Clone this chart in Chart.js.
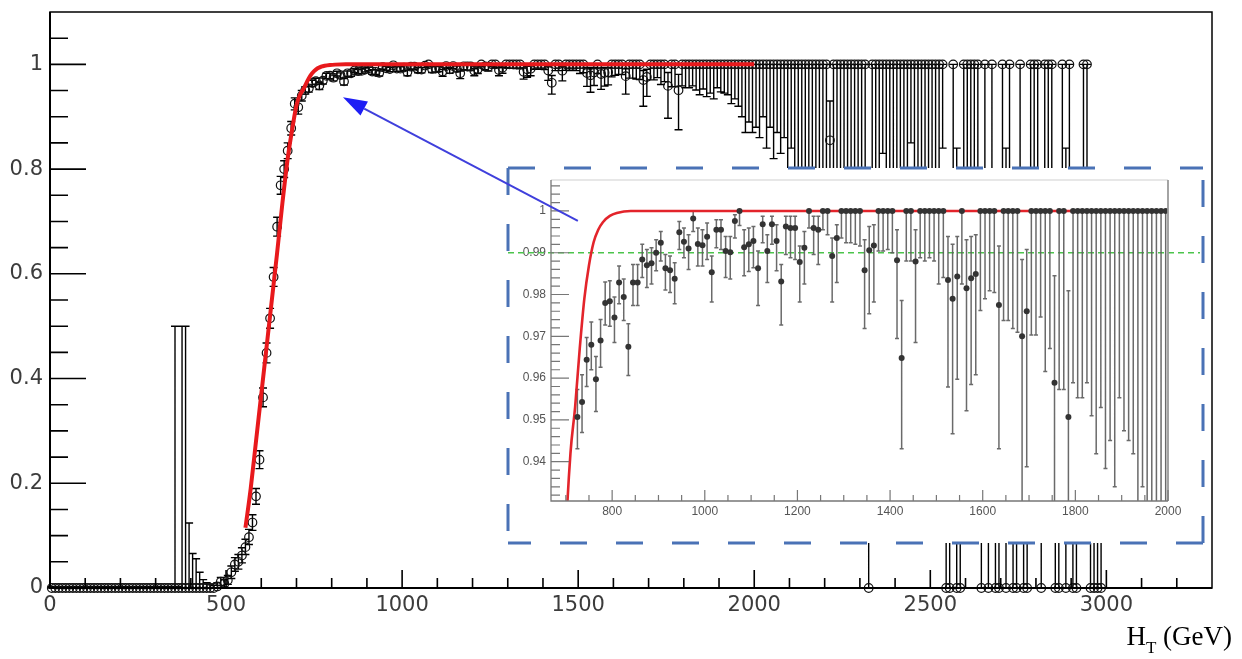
<!DOCTYPE html>
<html>
<head>
<meta charset="utf-8">
<script src="https://cdn.jsdelivr.net/npm/chart.js@4.4.0/dist/chart.umd.min.js"></script>
<style>
  html, body { margin: 0; padding: 0; background: #fff; }
  #wrap { position: relative; width: 1242px; height: 659px; }
  #wrap canvas { position: absolute; left: 0; top: 0; }
</style>
</head>
<body>
<div id="wrap">
  <canvas id="main" width="1242" height="659"></canvas>
  <canvas id="inset" width="1242" height="659"></canvas>
</div>
<script>
// ---- data ----
// turn-on region, 10 GeV bins (main plot only)
const lowHT = [5,15,25,35,45,55,65,75,85,95,
  105,115,125,135,145,155,165,175,185,195,
  205,215,225,235,245,255,265,275,285,295,
  305,315,325,335,345,355,365,375,385,395,
  405,415,425,435,445,455,465,475,485,495,
  505,515,525,535,545,555,565,575,585,595,
  605,615,625,635,645,655,665,675,685,695,
  705,715];
const lowEff = [0,0,0,0,0,0,0,0,0,0,
  0,0,0,0,0,0,0,0,0,0,
  0,0,0,0,0,0,0,0,0,0,
  0,0,0,0,0,0,0,0,0,0,
  0,0,0,0,0,0,0,0.003,0.012,0.008,
  0.015,0.03,0.045,0.05,0.062,0.078,0.097,0.125,0.175,0.245,
  0.364,0.449,0.515,0.594,0.69,0.769,0.80,0.835,0.878,0.925,
  0.918,0.94];
const lowLow = [0,0,0,0,0,0,0,0,0,0,
  0,0,0,0,0,0,0,0,0,0,
  0,0,0,0,0,0,0,0,0,0,
  0,0,0,0,0,0,0,0,0,0,
  0,0,0,0,0,0,0,0,0.005,0.002,
  0.007,0.018,0.032,0.036,0.048,0.064,0.083,0.11,0.16,0.228,
  0.346,0.43,0.496,0.576,0.672,0.752,0.784,0.82,0.865,0.913,
  0.905,0.93];
const lowHigh = [0.003,0.003,0.003,0.003,0.003,0.003,0.003,0.003,0.003,0.003,
  0.003,0.003,0.003,0.003,0.003,0.003,0.003,0.003,0.003,0.003,
  0.003,0.003,0.003,0.003,0.003,0.003,0.003,0.003,0.003,0.003,
  0.003,0.003,0.003,0.003,0.003,0.5,0.003,0.5,0.5,0.124,
  0.066,0.056,0.03,0.016,0.01,0.006,0.005,0.01,0.02,0.016,
  0.024,0.042,0.058,0.064,0.077,0.093,0.112,0.14,0.19,0.262,
  0.382,0.468,0.534,0.612,0.708,0.786,0.816,0.85,0.891,0.936,
  0.93,0.95];

// plateau region 720-2000 (shown in both plots)
const insetHT = [725,735,745,755,765,775,785,795,805,815,
  825,835,845,855,865,875,885,895,905,915,
  925,935,945,955,965,975,985,995,1005,1015,
  1025,1035,1045,1055,1065,1075,1085,1095,1105,1115,
  1125,1135,1145,1155,1165,1175,1185,1195,1205,1215,
  1225,1235,1245,1255,1265,1275,1285,1295,1305,1315,
  1325,1335,1345,1355,1365,1375,1385,1395,1405,1415,
  1425,1435,1445,1455,1465,1475,1485,1495,1505,1515,
  1525,1535,1545,1555,1565,1575,1585,1595,1605,1615,
  1625,1635,1645,1655,1665,1675,1685,1695,1705,1715,
  1725,1735,1745,1755,1765,1775,1785,1795,1805,1815,
  1825,1835,1845,1855,1865,1875,1885,1895,1905,1915,
  1925,1935,1945,1955,1965,1975,1985,1995];
const insetEff = [0.9507,0.9543,0.9644,0.9680,0.9597,0.9690,0.9780,0.9784,0.9745,0.9829,
  0.9794,0.9675,0.9829,0.9829,0.9884,0.9870,0.9875,0.9900,0.9924,0.9863,
  0.9858,0.9838,0.9949,0.9926,0.9910,0.9982,0.9921,0.9918,0.9938,0.9853,
  0.9955,0.9955,0.9904,0.9901,0.9976,1,0.9913,0.9920,0.9928,0.9863,
  0.9968,0.9904,0.9968,0.9928,0.9831,0.9963,0.9959,0.9959,0.9878,0.9912,
  1,0.9959,0.9955,1,1,0.9892,0.9935,1,1,1,
  1,1,0.9858,0.9906,0.9917,1,1,1,1,0.9882,
  0.9648,1,1,0.9879,1,1,1,1,1,1,
  0.9835,0.9790,0.9843,1,0.9815,0.9839,0.9849,1,1,1,
  1,0.9775,1,1,1,1,0.9700,0.9760,1,1,
  1,1,1,0.9589,1,1,0.9507,1,1,1,
  1,1,1,1,1,1,1,1,1,1,
  1,1,1,1,1,1,1,1];
const insetLow = [0.9431,0.9470,0.9580,0.9620,0.9520,0.9626,0.9727,0.9724,0.9685,0.9778,
  0.9738,0.9606,0.9774,0.9774,0.9841,0.9817,0.9825,0.9857,0.9880,0.9811,
  0.9805,0.9778,0.9908,0.9888,0.9860,0.9951,0.9868,0.9868,0.9884,0.9782,
  0.9912,0.9908,0.9841,0.9837,0.9935,0.9965,0.9845,0.9855,0.9864,0.9774,
  0.9924,0.9829,0.9920,0.9857,0.9727,0.9896,0.9888,0.9884,0.9782,0.9825,
  0.9959,0.9896,0.9872,0.9955,0.9943,0.9782,0.9829,0.9935,0.9924,0.9924,
  0.9920,0.9916,0.9719,0.9754,0.9782,0.9904,0.9904,0.9908,0.9900,0.9695,
  0.9431,0.9880,0.9880,0.9685,0.9888,0.9880,0.9888,0.9880,0.9825,0.9841,
  0.9579,0.9467,0.9597,0.9825,0.9522,0.9585,0.9608,0.9762,0.9790,0.9809,
  0.9805,0.9431,0.9738,0.9738,0.9719,0.9710,0.9200,0.9388,0.9703,0.9703,
  0.9746,0.9616,0.9671,0.8970,0.9573,0.9573,0.8750,0.9589,0.9553,0.9553,
  0.9589,0.9510,0.9419,0.9530,0.9384,0.9451,0.9340,0.9553,0.9474,0.9451,
  0.9419,0.9250,0.9340,0.9200,0.9000,0.8700,0.8900,0.8700];
const insetHigh = [0.9573,0.9608,0.9697,0.9734,0.9652,0.9740,0.9830,0.9833,0.9794,0.9868,
  0.9837,0.9730,0.9872,0.9872,0.9920,0.9908,0.9912,0.9931,0.9951,0.9896,
  0.9892,0.9876,0.9975,0.9959,0.9943,1,0.9959,0.9955,0.9971,0.9892,
  0.9979,0.9979,0.9939,0.9939,0.9991,1,0.9955,0.9959,0.9963,0.9904,
  0.9987,0.9943,0.9987,0.9967,0.9872,0.9987,0.9987,0.9987,0.9916,0.9951,
  1,0.9987,0.9987,1,1,0.9935,0.9967,1,1,1,
  1,1,0.9931,0.9963,0.9967,1,1,1,1,0.9955,
  0.9786,1,1,0.9955,1,1,1,1,1,1,
  0.9939,0.9920,0.9939,1,0.9931,0.9939,0.9943,1,1,1,
  1,0.9916,1,1,1,1,0.9884,0.9908,1,1,
  1,1,1,0.9845,1,1,0.9809,1,1,1,
  1,1,1,1,1,1,1,1,1,1,
  1,1,1,1,1,1,1,1];

// sparse tail above 2000 GeV (main plot only)
const highHT = [2005,2015,2025,2035,2045,2055,2065,2075,2085,2095,
  2105,2115,2125,2135,2145,2155,2165,2175,2185,2195,
  2205,2215,2225,2235,2245,2255,2265,2275,2285,2295,
  2305,2315,2325,2335,2345,2355,2365,2375,2385,2395,
  2405,2415,2425,2435,2445,2455,2465,2475,2485,2495,
  2505,2515,2525,2535,2545,2555,2565,2575,2585,2595,
  2605,2615,2625,2635,2645,2655,2665,2675,2685,2695,
  2705,2715,2725,2735,2745,2755,2765,2775,2785,2795,
  2805,2815,2825,2835,2845,2855,2865,2875,2885,2895,
  2905,2915,2935,2945,2955,2965,2975,2985];
const highEff = [1,1,1,1,1,1,1,1,1,1,
  1,1,1,1,1,1,1,1,1,1,
  1,0.855,1,1,1,1,1,1,1,1,
  1,1,0,1,1,1,1,1,1,1,
  1,1,1,1,1,1,1,1,1,1,
  1,1,1,1,0,0,1,0,0,1,
  1,1,1,1,0,1,0,1,0,0,
  1,0,1,0,0,1,0,0,1,1,
  1,0,1,1,1,0,0,1,0,1,
  0,0,1,1,0,0,0,0];
const highLow = [0.88,0.86,0.90,0.84,0.88,0.82,0.87,0.83,0.86,0.80,
  0.84,0.78,0.6,0.55,0.7,0.5,0.45,0.62,0.4,0.35,
  0.4,0.6,0.3,0.25,0.16,0.4,0.3,0.16,0.2,0.35,
  0.16,0.25,0,0.3,0.16,0.2,0.83,0.4,0.25,0.16,
  0.3,0.2,0.16,0.25,0.85,0.3,0.16,0.2,0.16,0.16,
  0.25,0.16,0.2,0.84,0,0,0.16,0,0,0.16,
  0.16,0.16,0.16,0.16,0,0.16,0,0.16,0,0,
  0.16,0,0.16,0,0,0.16,0,0,0.16,0.16,
  0.16,0,0.16,0.16,0.16,0,0,0.16,0,0.16,
  0,0,0.16,0.16,0,0,0,0];
const highHigh = [1,1,1,1,1,1,1,1,1,1,
  1,1,1,1,1,1,1,1,1,1,
  1,0.93,1,1,1,1,1,1,1,1,
  1,1,0.7,1,1,1,1,1,1,1,
  1,1,1,1,1,1,1,1,1,1,
  1,1,1,1,0.7,0.7,1,0.84,0.7,1,
  1,1,1,1,0.7,1,0.7,1,0.7,0.7,
  1,0.84,1,0.7,0.7,1,0.7,0.7,1,1,
  1,0.7,1,1,1,0.7,0.7,1,0.84,1,
  0.7,0.7,1,1,0.7,0.7,0.7,0.7];

// fitted turn-on curve
const fitHT  = [555,570,585,600,615,630,645,660,675,690,700,710,720,730,740,750,760,770,780,795,810,840,2000];
const fitEff = [0.115,0.19,0.28,0.37,0.46,0.55,0.64,0.735,0.82,0.885,0.922,0.942,0.953,0.967,0.979,0.987,0.9925,0.9955,0.9973,0.9988,0.9995,1,1];

// tick labels
const mainXLabels = [0,500,1000,1500,2000,2500,3000];
const mainYLabels = [0,0.2,0.4,0.6,0.8,1];
const insetXLabels = [800,1000,1200,1400,1600,1800,2000];
const insetYLabels = [0.94,0.95,0.96,0.97,0.98,0.99,1];
const guideLevel = 0.99;
const arrowHead = { x: 832, y: 0.937 };   // main-plot coordinates
const arrowTail = { x: 726, y: 0.9976 };  // inset coordinates

Chart.defaults.font.family = 'DejaVu Sans';

const toXY = (xs, ys) => xs.map((x, i) => ({ x: x, y: ys[i] }));
const mainHT = lowHT.concat(insetHT, highHT);
const mainEff = lowEff.concat(insetEff, highEff);
const mainLow = lowLow.concat(insetLow, highLow);
const mainHigh = lowHigh.concat(insetHigh, highHigh);

function drawErrorBars(chart) {
  const ctx = chart.ctx, xs = chart.scales.x, ys = chart.scales.y, a = chart.chartArea;
  chart.data.datasets.forEach(ds => {
    if (!ds.errLow) return;
    ctx.save();
    if (ds.clipBars) {
      ctx.beginPath();
      ctx.rect(a.left, a.top, a.right - a.left, a.bottom - a.top);
      ctx.clip();
    }
    ctx.strokeStyle = ds.barColor;
    ctx.lineWidth = ds.barWidth;
    ctx.beginPath();
    const c = ds.capHalf;
    ds.data.forEach((p, i) => {
      const x = xs.getPixelForValue(p.x);
      const y1 = ys.getPixelForValue(ds.errLow[i]);
      const y2 = ys.getPixelForValue(ds.errHigh[i]);
      ctx.moveTo(x, y1); ctx.lineTo(x, y2);
      if (c) {
        ctx.moveTo(x - c, y1); ctx.lineTo(x + c, y1);
        ctx.moveTo(x - c, y2); ctx.lineTo(x + c, y2);
      }
    });
    ctx.stroke();
    ctx.restore();
  });
}

function tickLoop(from, to, step) {
  const out = [];
  for (let v = from; v <= to + step / 1000; v += step) out.push(Math.round(v * 10000) / 10000);
  return out;
}

function drawInsideTicks(chart, xMinor, xMajor, xMinLen, xMajLen, yMinor, yMajor, yMinLen, yMajLen) {
  const ctx = chart.ctx, xs = chart.scales.x, ys = chart.scales.y, a = chart.chartArea;
  ctx.beginPath();
  xMinor.forEach(v => { const x = xs.getPixelForValue(v); ctx.moveTo(x, a.bottom); ctx.lineTo(x, a.bottom - xMinLen); });
  xMajor.forEach(v => { const x = xs.getPixelForValue(v); ctx.moveTo(x, a.bottom); ctx.lineTo(x, a.bottom - xMajLen); });
  yMinor.forEach(v => { const y = ys.getPixelForValue(v); ctx.moveTo(a.left, y); ctx.lineTo(a.left + yMinLen, y); });
  yMajor.forEach(v => { const y = ys.getPixelForValue(v); ctx.moveTo(a.left, y); ctx.lineTo(a.left + yMajLen, y); });
  ctx.stroke();
}

// fixed axis boxes, no extra label overhang padding
const fixX = h => s => { s.height = h; s.paddingLeft = 0; s.paddingRight = 0; };
const fixY = w => s => { s.width = w; s.paddingTop = 0; s.paddingBottom = 0; };

// ---------------- main plot ----------------
const mainDecor = {
  id: 'mainDecor',
  beforeDraw(chart) {
    const ctx = chart.ctx;
    ctx.save();
    ctx.fillStyle = '#fff';
    ctx.fillRect(0, 0, chart.width, chart.height);
    ctx.restore();
  },
  beforeDatasetsDraw(chart) { drawErrorBars(chart); },
  afterDraw(chart) {
    const ctx = chart.ctx, a = chart.chartArea;
    ctx.save();
    ctx.strokeStyle = '#000';
    ctx.lineWidth = 1.5;
    ctx.strokeRect(a.left, a.top, a.right - a.left, a.bottom - a.top);
    ctx.lineWidth = 2;
    ctx.beginPath();
    ctx.moveTo(a.left, a.top); ctx.lineTo(a.left, a.bottom); ctx.lineTo(a.right, a.bottom);
    ctx.stroke();
    ctx.lineWidth = 1.6;
    drawInsideTicks(chart, tickLoop(100, 3200, 100), tickLoop(500, 3000, 500), 10, 18,
      tickLoop(0.05, 1.05, 0.05), tickLoop(0.2, 1.0, 0.2), 18, 36);
    // axis title H_T (GeV)
    ctx.fillStyle = '#000';
    ctx.textBaseline = 'alphabetic';
    ctx.font = '27px "Liberation Serif"';
    const wH = ctx.measureText('H').width;
    const wG = ctx.measureText(' (GeV)').width;
    ctx.font = '17px "Liberation Serif"';
    const wT = ctx.measureText('T').width;
    let x = a.right + 20 - (wH + wT + wG);
    const base = a.bottom + 57;
    ctx.font = '27px "Liberation Serif"';
    ctx.fillText('H', x, base); x += wH;
    ctx.font = '17px "Liberation Serif"';
    ctx.fillText('T', x, base + 8); x += wT;
    ctx.font = '27px "Liberation Serif"';
    ctx.fillText(' (GeV)', x, base);
    ctx.restore();
  }
};

const mainChart = new Chart(document.getElementById('main'), {
  type: 'scatter',
  data: {
    datasets: [
      {
        label: 'fit',
        data: toXY(fitHT, fitEff),
        showLine: true,
        borderColor: '#e8191c',
        borderWidth: 4,
        pointRadius: 0,
        cubicInterpolationMode: 'monotone',
        order: 0
      },
      {
        label: 'efficiency',
        data: toXY(mainHT, mainEff),
        pointStyle: 'circle',
        pointRadius: 4.3,
        borderWidth: 1.2,
        borderColor: '#111',
        backgroundColor: 'rgba(255,255,255,0)',
        clip: false,
        errLow: mainLow,
        errHigh: mainHigh,
        barColor: '#000',
        barWidth: 1.4,
        capHalf: 4,
        order: 1
      }
    ]
  },
  options: {
    responsive: false,
    animation: false,
    events: [],
    layout: { padding: { left: 0, top: 12, right: 30, bottom: 0 } },
    plugins: { legend: { display: false }, tooltip: { enabled: false } },
    scales: {
      x: {
        type: 'linear', min: 0, max: 3300,
        afterBuildTicks: s => { s.ticks = mainXLabels.map(v => ({ value: v })); },
        afterFit: fixX(71),
        grid: { display: false, drawTicks: false },
        border: { display: false },
        ticks: { padding: 5, autoSkip: false, maxRotation: 0, color: '#3c3c3c',
                 font: { family: 'DejaVu Sans', size: 21 }, callback: v => String(v) }
      },
      y: {
        type: 'linear', min: 0, max: 1.1,
        afterBuildTicks: s => { s.ticks = mainYLabels.map(v => ({ value: v })); },
        afterFit: fixY(50),
        grid: { display: false, drawTicks: false },
        border: { display: false },
        ticks: { padding: 7, autoSkip: false, color: '#3c3c3c',
                 font: { family: 'DejaVu Sans', size: 21 }, callback: v => String(Math.round(v * 10) / 10) }
      }
    }
  },
  plugins: [mainDecor]
});

// ---------------- inset ----------------
const insetDecor = {
  id: 'insetDecor',
  beforeDraw(chart) {
    const ctx = chart.ctx, a = chart.chartArea;
    const L = a.left - 43, T = a.top - 12, R = a.right + 35, B = a.bottom + 42;
    ctx.save();
    ctx.fillStyle = '#fff';
    ctx.fillRect(L, T, R - L, B - T);
    ctx.strokeStyle = '#4a72b6';
    ctx.lineWidth = 3;
    ctx.setLineDash([27, 29]);
    ctx.beginPath(); ctx.moveTo(L, T); ctx.lineTo(R, T); ctx.stroke();
    ctx.beginPath(); ctx.moveTo(L, T); ctx.lineTo(L, B); ctx.stroke();
    ctx.beginPath(); ctx.moveTo(R, B); ctx.lineTo(R, T); ctx.stroke();
    ctx.beginPath(); ctx.moveTo(R, B); ctx.lineTo(L, B); ctx.stroke();
    ctx.restore();
  },
  beforeDatasetsDraw(chart) {
    const ctx = chart.ctx, a = chart.chartArea;
    const y = chart.scales.y.getPixelForValue(guideLevel);
    ctx.save();
    ctx.strokeStyle = '#4cc44c';
    ctx.lineWidth = 1.3;
    ctx.setLineDash([6, 4]);
    ctx.beginPath(); ctx.moveTo(a.left - 43, y); ctx.lineTo(a.right + 32, y); ctx.stroke();
    ctx.restore();
    drawErrorBars(chart);
  },
  afterDraw(chart) {
    const ctx = chart.ctx, a = chart.chartArea;
    ctx.save();
    // frame
    ctx.lineWidth = 1.2;
    ctx.strokeStyle = '#cfcfcf';
    ctx.beginPath(); ctx.moveTo(a.left, a.top); ctx.lineTo(a.right, a.top); ctx.stroke();
    ctx.strokeStyle = '#9a9a9a';
    ctx.lineWidth = 1.8;
    ctx.beginPath(); ctx.moveTo(a.right, a.top); ctx.lineTo(a.right, a.bottom); ctx.stroke();
    ctx.strokeStyle = '#777';
    ctx.lineWidth = 1.3;
    ctx.beginPath(); ctx.moveTo(a.left, a.top); ctx.lineTo(a.left, a.bottom); ctx.lineTo(a.right, a.bottom); ctx.stroke();
    ctx.lineWidth = 1.2;
    drawInsideTicks(chart, tickLoop(700, 2000, 50), insetXLabels, 6, 11,
      tickLoop(0.932, 1.006, 0.002), insetYLabels, 9, 18);
    // arrow from the inset to the plateau of the main plot
    const hx = mainChart.scales.x.getPixelForValue(arrowHead.x);
    const hy = mainChart.scales.y.getPixelForValue(arrowHead.y);
    const tx = chart.scales.x.getPixelForValue(arrowTail.x);
    const ty = chart.scales.y.getPixelForValue(arrowTail.y);
    const ang = Math.atan2(hy - ty, hx - tx);
    const len = 24, half = 8;
    const bx = hx - len * Math.cos(ang), by = hy - len * Math.sin(ang);
    ctx.strokeStyle = '#3f3fdc';
    ctx.lineWidth = 2;
    ctx.beginPath(); ctx.moveTo(tx, ty); ctx.lineTo(bx, by); ctx.stroke();
    ctx.fillStyle = '#1e1ef5';
    ctx.beginPath();
    ctx.moveTo(hx, hy);
    ctx.lineTo(bx + half * Math.sin(ang), by - half * Math.cos(ang));
    ctx.lineTo(bx - half * Math.sin(ang), by + half * Math.cos(ang));
    ctx.closePath();
    ctx.fill();
    ctx.restore();
  }
};

new Chart(document.getElementById('inset'), {
  type: 'scatter',
  data: {
    datasets: [
      {
        label: 'fit',
        data: toXY(fitHT, fitEff),
        showLine: true,
        borderColor: '#e3242b',
        borderWidth: 2.6,
        pointRadius: 0,
        cubicInterpolationMode: 'monotone',
        order: 1
      },
      {
        label: 'efficiency',
        data: toXY(insetHT, insetEff),
        pointStyle: 'circle',
        pointRadius: 3,
        borderWidth: 0,
        backgroundColor: '#333',
        errLow: insetLow,
        errHigh: insetHigh,
        barColor: 'rgba(90,90,90,0.9)',
        barWidth: 1.5,
        capHalf: 2,
        clipBars: true,
        order: 0
      }
    ]
  },
  options: {
    responsive: false,
    animation: false,
    events: [],
    layout: { padding: { left: 0, top: 180, right: 74, bottom: 0 } },
    plugins: { legend: { display: false }, tooltip: { enabled: false } },
    scales: {
      x: {
        type: 'linear', min: 668, max: 2000,
        afterBuildTicks: s => { s.ticks = insetXLabels.map(v => ({ value: v })); },
        afterFit: fixX(158),
        grid: { display: false, drawTicks: false },
        border: { display: false },
        ticks: { padding: 3, autoSkip: false, maxRotation: 0, color: '#555',
                 font: { family: 'Liberation Sans', size: 12 }, callback: v => String(v) }
      },
      y: {
        type: 'linear', min: 0.9306, max: 1.0074,
        afterBuildTicks: s => { s.ticks = insetYLabels.map(v => ({ value: v })); },
        afterFit: fixY(551),
        grid: { display: false, drawTicks: false },
        border: { display: false },
        ticks: { padding: 5, autoSkip: false, color: '#555',
                 font: { family: 'Liberation Sans', size: 12 },
                 callback: v => (v > 0.9999 ? '1' : v.toFixed(2)) }
      }
    }
  },
  plugins: [insetDecor]
});
</script>
</body>
</html>
